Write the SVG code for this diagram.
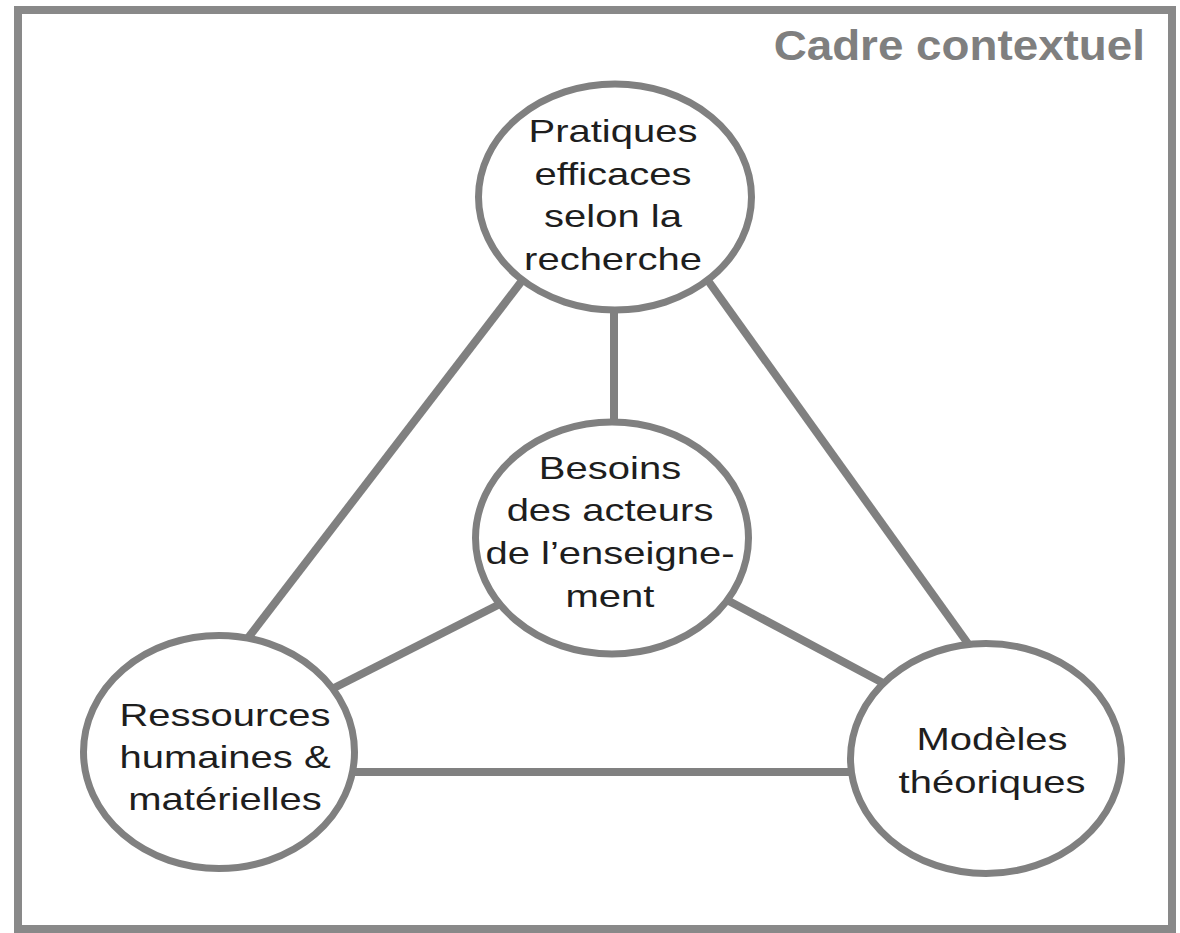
<svg xmlns="http://www.w3.org/2000/svg" width="1180" height="933" viewBox="0 0 1180 933">
<style>
.frame{fill:#ffffff;stroke:#898989;stroke-width:8}
.node{fill:#ffffff;stroke:#808080;stroke-width:7}
.edge{stroke:#808080;stroke-width:8;fill:none}
.lbl{font-family:"Liberation Sans",Arial,sans-serif;font-size:32px;fill:#1e1e1e;text-anchor:middle}
.title{font-family:"Liberation Sans",Arial,sans-serif;font-size:42px;font-weight:bold;fill:#7f7f7f;text-anchor:end}
</style>
<rect class="frame" x="18" y="10" width="1154" height="919"/>
<g id="title" transform="translate(1145,60) scale(1.09,1)">
<text class="title" x="0" y="0">Cadre contextuel</text>
</g>
<g id="connectors">
<line class="edge" x1="521" y1="282" x2="248" y2="638"/>
<line class="edge" x1="709" y1="282" x2="969" y2="645"/>
<line class="edge" x1="614" y1="305" x2="614" y2="425"/>
<line class="edge" x1="500" y1="604" x2="330" y2="690"/>
<line class="edge" x1="727" y1="600" x2="883" y2="683"/>
<line class="edge" x1="350" y1="772" x2="855" y2="772"/>
</g>
<g id="node-pratiques">
<ellipse class="node" cx="615" cy="197" rx="136.5" ry="113"/>
<g transform="translate(613,0) scale(1.25,1)">
<text class="lbl" x="0" y="142">Pratiques</text>
<text class="lbl" x="0" y="185">efficaces</text>
<text class="lbl" x="0" y="227">selon la</text>
<text class="lbl" x="0" y="270">recherche</text>
</g>
</g>
<g id="node-besoins">
<ellipse class="node" cx="612" cy="538" rx="136.5" ry="116"/>
<g transform="translate(610,0) scale(1.25,1)">
<text class="lbl" x="0" y="479">Besoins</text>
<text class="lbl" x="0" y="521">des acteurs</text>
<text class="lbl" x="0" y="564">de l’enseigne-</text>
<text class="lbl" x="0" y="607">ment</text>
</g>
</g>
<g id="node-ressources">
<ellipse class="node" cx="219" cy="752" rx="135.5" ry="116.5"/>
<g transform="translate(225,0) scale(1.25,1)">
<text class="lbl" x="0" y="726">Ressources</text>
<text class="lbl" x="0" y="768">humaines &amp;</text>
<text class="lbl" x="0" y="810">matérielles</text>
</g>
</g>
<g id="node-modeles">
<ellipse class="node" cx="986" cy="758.5" rx="135.5" ry="115"/>
<g transform="translate(992,0) scale(1.25,1)">
<text class="lbl" x="0" y="750">Modèles</text>
<text class="lbl" x="0" y="793">théoriques</text>
</g>
</g>
</svg>
